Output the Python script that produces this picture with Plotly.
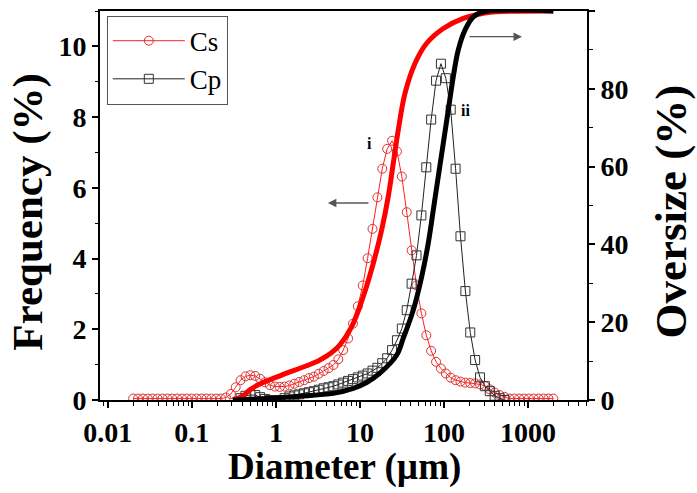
import plotly.graph_objects as go

# Particle diameter grid (µm)
diameter = [0.02, 0.02287, 0.02615, 0.02989, 0.03418, 0.03907, 0.04467, 0.05105, 0.05837, 0.06674,
            0.07628, 0.08721, 0.0997, 0.114, 0.1303, 0.149, 0.1703, 0.1947, 0.2226, 0.2544,
            0.2909, 0.3325, 0.3802, 0.4346, 0.4969, 0.5681, 0.6495, 0.7426, 0.8489, 0.9705,
            1.11, 1.269, 1.45, 1.658, 1.896, 2.168, 2.477, 2.833, 3.238, 3.702,
            4.233, 4.839, 5.533, 6.324, 7.23, 8.268, 9.45, 10.8, 12.35, 14.12,
            16.14, 18.45, 21.1, 24.12, 27.58, 31.53, 36.05, 41.21, 47.11, 53.86,
            61.58, 70.4, 80.49, 92.01, 105.2, 120.3, 137.5, 157.2, 179.7, 205.5,
            234.9, 268.5, 307.0, 351.0, 401.2, 458.7, 524.4, 599.6, 685.4, 783.6,
            895.9, 1024, 1171, 1338, 1530, 1750, 2000]

# Frequency (%) – Cs
cs_freq = [0.04] * 19 + [
    0.07, 0.17, 0.36, 0.56, 0.67, 0.70, 0.68, 0.60, 0.50, 0.42,
    0.38, 0.37, 0.38, 0.41, 0.46, 0.51, 0.56, 0.62, 0.66, 0.74,
    0.82, 0.90, 0.99, 1.15, 1.41, 1.74, 2.16, 2.65, 3.24, 4.01,
    4.84, 5.73, 6.54, 7.10, 7.33, 7.03, 6.32, 5.31, 4.23, 3.24,
    2.45, 1.83, 1.39, 1.08, 0.89, 0.75, 0.63, 0.56, 0.52, 0.49,
    0.48, 0.47, 0.44, 0.40, 0.30, 0.21, 0.14, 0.09] + [0.04] * 10

# Frequency (%) – Cp
cp_freq = [None] * 22 + [
    0.05, 0.12, 0.14, 0.14, 0.08, 0.03, 0.0, 0.0, 0.0, 0.05,
    0.10, 0.13, 0.16, 0.19, 0.22, 0.25, 0.29, 0.33, 0.36, 0.39,
    0.44, 0.49, 0.54, 0.59, 0.64, 0.69, 0.75, 0.83, 0.91, 1.04,
    1.18, 1.41, 1.69, 2.02, 2.54, 3.29, 4.09, 5.22, 6.58, 7.93,
    9.03, 9.51, 9.10, 8.21, 6.54, 4.63, 3.08, 1.91, 1.13, 0.64,
    0.39, 0.25, 0.12, 0.05, 0.0] + [None] * 10

# Cumulative curves (%), right axis
cs_cum_d = [0.308, 0.40, 0.49, 0.616, 0.775, 1.0, 1.34, 2.32, 3.34, 4.5, 5.78, 7.96, 10.95, 14.4,
            18.13, 21.73, 24.91, 28.58, 34.35, 45.16, 62.23, 98.1, 169.8, 293.8, 424.1, 2000]
cs_cum = [0, 1.0, 2.6, 3.9, 4.9, 5.8, 6.9, 8.8, 10.3, 12.0, 14.2, 18.8, 26.6, 35.1,
          43.7, 52.3, 60.8, 69.4, 78.8, 86.5, 91.7, 95.5, 98.1, 99.4, 99.8, 100]

cp_cum_d = [0.308, 0.775, 1.93, 4.81, 8.32, 12.02, 17.3, 27.3, 32.8, 43.1, 54.3, 65.0, 74.6,
            85.5, 98.1, 112.5, 129.0, 148.0, 177.8, 223.3, 293.8, 2000]
cp_cum = [0, 0.4, 1.0, 1.7, 3.0, 4.5, 6.9, 11.5, 15.9, 23.1, 31.7, 40.3, 48.8,
          57.4, 66.0, 74.5, 83.1, 90.0, 95.1, 98.5, 99.8, 100]

x_ticks = [0.01, 0.1, 1, 10, 100, 1000]
x_tick_text = ["0.01", "0.1", "1", "10", "100", "1000"]
x_minor = [m * 10 ** e for e in range(-3, 4) for m in range(2, 10)]

SERIF = "Liberation Serif"

fig = go.Figure()

fig.add_trace(go.Scatter(x=cs_cum_d, y=cs_cum, yaxis="y2", mode="lines", line_shape="spline",
                         line=dict(color="#ff0000", width=5), showlegend=False))
fig.add_trace(go.Scatter(x=cp_cum_d, y=cp_cum, yaxis="y2", mode="lines", line_shape="spline",
                         line=dict(color="#000000", width=5), showlegend=False))

fig.add_trace(go.Scatter(x=diameter, y=cs_freq, name="Cs", mode="lines+markers",
                         line=dict(color="#ff2020", width=1),
                         marker=dict(symbol="circle-open", size=9, color="#e03030",
                                     line=dict(width=1))))
fig.add_trace(go.Scatter(x=diameter, y=cp_freq, name="Cp", mode="lines+markers",
                         line=dict(color="#222222", width=1), connectgaps=False,
                         marker=dict(symbol="square-open", size=9, color="#333333",
                                     line=dict(width=1))))

tickfont = dict(family=SERIF, size=28, color="black", weight="bold")

fig.update_layout(
    width=697, height=493,
    margin=dict(l=100, r=110, t=11, b=93),
    paper_bgcolor="white", plot_bgcolor="white",
    hovermode=False,
    showlegend=True,
    legend=dict(x=0.014, y=0.988, xanchor="left", yanchor="top",
                bgcolor="white", bordercolor="#555555", borderwidth=1,
                font=dict(family=SERIF, size=27, color="black"),
                itemwidth=72, tracegroupgap=0),
    xaxis=dict(type="log", range=[-2.093, 3.702], automargin=False,
               tickvals=x_ticks, ticktext=x_tick_text, tickfont=tickfont,
               ticks="outside", ticklen=6, tickwidth=1.5, tickcolor="black",
               minor=dict(tickvals=x_minor, ticks="outside", ticklen=3.5, tickwidth=1, tickcolor="black"),
               showline=True, linecolor="black", linewidth=2, mirror=True,
               showgrid=False, zeroline=False),
    yaxis=dict(range=[0, 11], tickvals=[0, 2, 4, 6, 8, 10], tickfont=tickfont, automargin=False,
               ticks="outside", ticklen=6, tickwidth=1.5, tickcolor="black",
               minor=dict(dtick=1, ticks="outside", ticklen=3.5, tickwidth=1, tickcolor="black"),
               showline=True, linecolor="black", linewidth=2,
               showgrid=False, zeroline=False),
    yaxis2=dict(range=[0, 100], overlaying="y", side="right", tickvals=[0, 20, 40, 60, 80, 100],
                tickfont=tickfont, automargin=False,
                ticks="outside", ticklen=6, tickwidth=1.5, tickcolor="black",
                minor=dict(dtick=10, ticks="outside", ticklen=3.5, tickwidth=1, tickcolor="black"),
                showline=True, linecolor="black", linewidth=2,
                showgrid=False, zeroline=False),
)

# axis titles
fig.add_annotation(text="Diameter (µm)", xref="paper", yref="paper", x=0.503, y=-0.172,
                   xanchor="center", yanchor="middle",
                   showarrow=False, font=dict(family=SERIF, size=37, color="black", weight="bold"))
fig.add_annotation(text="Frequency (%)", xref="paper", yref="paper", x=-0.148, y=0.484,
                   xanchor="center", yanchor="middle", textangle=-90, showarrow=False,
                   font=dict(family=SERIF, size=43, color="black", weight="bold"))
fig.add_annotation(text="Oversize (%)", xref="paper", yref="paper", x=1.172, y=0.484,
                   xanchor="center", yanchor="middle", textangle=-90, showarrow=False,
                   font=dict(family=SERIF, size=45, color="black", weight="bold"))

# arrows indicating axis ownership (log axis annotations use log10 values)
ARROW_COLOR = "#555555"
fig.add_annotation(x=2.928, y=93.4, xref="x", yref="y2", ax=2.286, ay=93.4, axref="x", ayref="y2",
                   showarrow=True, arrowhead=2, arrowsize=1.3, arrowwidth=1.3, arrowcolor=ARROW_COLOR, text="")
fig.add_annotation(x=0.619, y=5.57, xref="x", yref="y", ax=1.119, ay=5.57, axref="x", ayref="y",
                   showarrow=True, arrowhead=2, arrowsize=1.3, arrowwidth=1.3, arrowcolor=ARROW_COLOR, text="")
fig.add_annotation(x=1.119, y=7.26, xref="x", yref="y", text="i", showarrow=False,
                   font=dict(family=SERIF, size=16, color="black", weight="bold"))
fig.add_annotation(x=2.262, y=8.2, xref="x", yref="y", text="ii", showarrow=False,
                   font=dict(family=SERIF, size=16, color="black", weight="bold"))

fig.write_html("out.html", config={"displayModeBar": False},
               post_script="document.body.style.margin='0';")
